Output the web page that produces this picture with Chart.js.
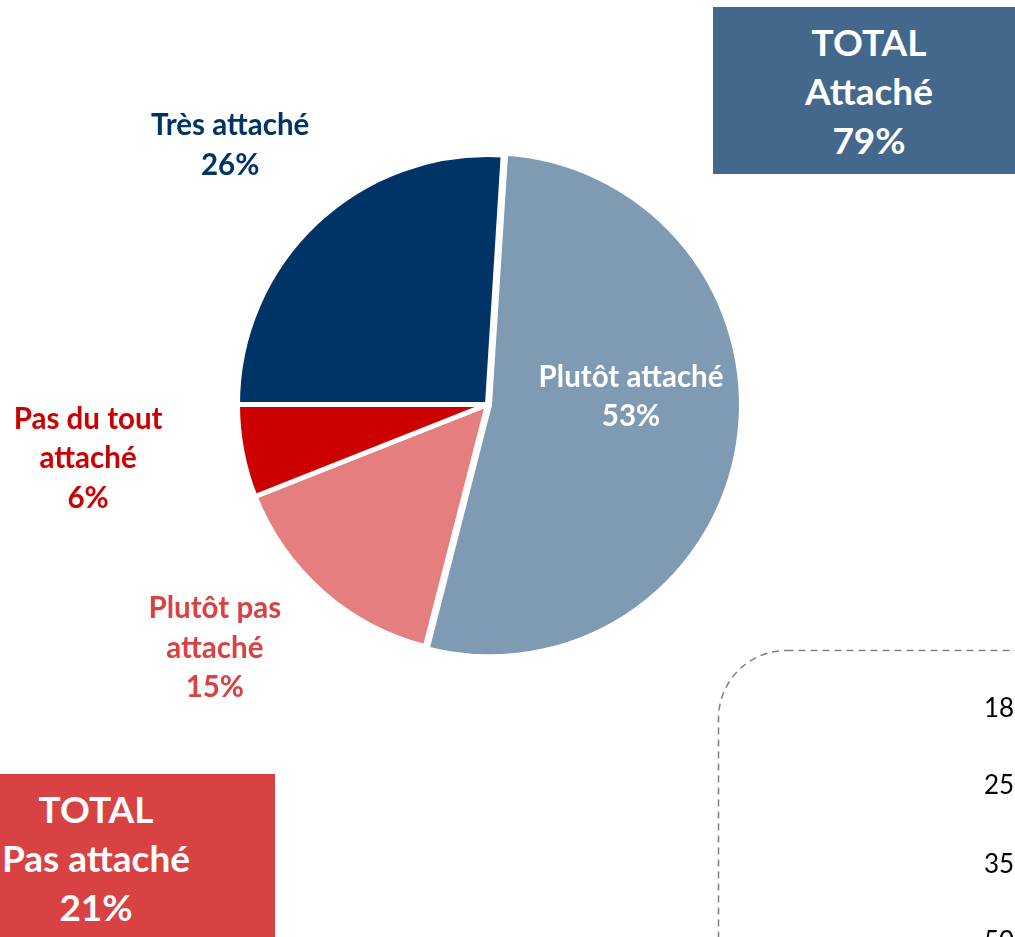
<!DOCTYPE html>
<html>
<head>
<meta charset="utf-8">
<script src="https://cdn.jsdelivr.net/npm/chart.js@4"></script>
<style>
  html, body { margin: 0; padding: 0; background: #fff; }
  #wrap { position: relative; width: 1015px; height: 937px; overflow: hidden; font-family: Lato, "Open Sans", sans-serif; }
  #pie { position: absolute; left: 0; top: 0; }
  .total { position: absolute; color: #fff; font-weight: bold; font-size: 37px; line-height: 49px; text-align: center; }
  #totalYes { left: 713px; top: 7px; width: 312px; height: 167px; background: #44678c; padding-top: 10px; box-sizing: border-box; }
  #totalNo { left: -83px; top: 774px; width: 358px; height: 180px; background: #d94242; padding-top: 10px; box-sizing: border-box; }
  #dash { position: absolute; left: 0; top: 0; }
  .age { position: absolute; left: 984px; font-size: 26px; color: #000; line-height: 30px; }
</style>
</head>
<body>
<div id="wrap">
  <svg id="dash" width="1015" height="937">
    <rect x="718.5" y="650.5" width="420" height="420" rx="68" ry="68" fill="none" stroke="#808080" stroke-width="1.5" stroke-dasharray="7 5"></rect>
  </svg>
  <canvas id="pie" width="1015" height="937"></canvas>
  <div class="total" id="totalYes">TOTAL<br>Attaché<br><span id="yesPct"></span></div>
  <div class="total" id="totalNo">TOTAL<br>Pas attaché<br><span id="noPct"></span></div>
  <div id="ages"></div>
</div>
<script>
// data
const categories = ["Très attaché", "Plutôt attaché", "Plutôt pas attaché", "Pas du tout attaché"];
const labelLines = [["Très attaché"], ["Plutôt attaché"], ["Plutôt pas", "attaché"], ["Pas du tout", "attaché"]];
const values = [26, 53, 15, 6];
const sliceColors = ["#003366", "#7f9ab3", "#e57f7f", "#cc0000"];
const labelColors = ["#003366", "#ffffff", "#d94242", "#cc0000"];
const totalAttache = 79;
const totalPasAttache = 21;
const ageTicks = ["18", "25", "35", "50"];

document.getElementById("yesPct").textContent = totalAttache + "%";
document.getElementById("noPct").textContent = totalPasAttache + "%";

// cut-off age labels of the neighbouring chart
const ages = document.getElementById("ages");
const ageTop = [692, 769, 848, 925];
ageTicks.forEach((t, i) => {
  const d = document.createElement("div");
  d.className = "age";
  d.style.top = ageTop[i] + "px";
  d.textContent = t;
  ages.appendChild(d);
});

// where each label sits, relative to its slice (angle shift in degrees, distance as share of radius)
const labelPlace = [
  { shift: -1.6, dist: 1.461 },
  { shift: -12, dist: 0.575 },
  { shift: 6.8, dist: 1.463 },
  { shift: 3.1, dist: 1.612 },
];

const sliceLabels = {
  id: "sliceLabels",
  afterDatasetsDraw(chart) {
    const ctx = chart.ctx;
    const meta = chart.getDatasetMeta(0);
    ctx.save();
    ctx.font = "bold 29.5px Lato, 'Open Sans', sans-serif";
    ctx.textAlign = "center";
    ctx.textBaseline = "middle";
    meta.data.forEach((arc, i) => {
      const p = arc.getProps(["x", "y", "startAngle", "endAngle", "outerRadius"], true);
      const a = (p.startAngle + p.endAngle) / 2 + labelPlace[i].shift * Math.PI / 180;
      const d = labelPlace[i].dist * p.outerRadius;
      const cx = p.x + Math.cos(a) * d;
      const cy = p.y + Math.sin(a) * d;
      const lines = labelLines[i].concat([values[i] + "%"]);
      const lh = 39.5;
      ctx.fillStyle = labelColors[i];
      lines.forEach((ln, k) => {
        ctx.fillText(ln, cx, cy + (k - (lines.length - 1) / 2) * lh);
      });
    });
    ctx.restore();
  },
};

const chart = new Chart(document.getElementById("pie"), {
  type: "pie",
  data: {
    labels: categories,
    datasets: [{
      data: values,
      backgroundColor: sliceColors,
      borderColor: "#ffffff",
      borderWidth: 5,
      offset: [0, 8, 0, 0],
      hoverOffset: 0,
    }],
  },
  options: {
    responsive: false,
    animation: false,
    rotation: 270,
    layout: { padding: { left: 231, top: 148, right: 271, bottom: 276 } },
    plugins: {
      legend: { display: false },
      tooltip: { enabled: false },
    },
  },
  plugins: [sliceLabels],
});
</script>
</body>
</html>
